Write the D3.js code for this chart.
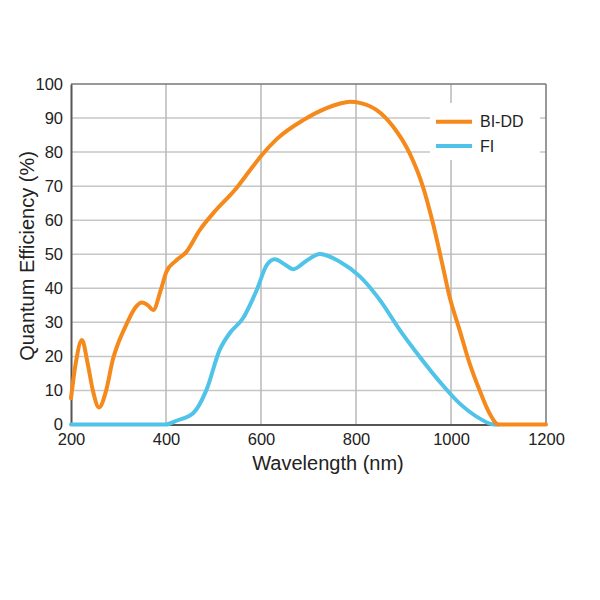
<!DOCTYPE html>
<html><head><meta charset="utf-8">
<script src="https://cdn.jsdelivr.net/npm/d3@7"></script>
<style>body{margin:0;background:#fff;} svg{display:block;font-family:"Liberation Sans",Arial,sans-serif;}</style>
</head><body>
<svg id="chart" width="600" height="600"></svg>
<script>
const xTicks = [200, 400, 600, 800, 1000, 1200];
const yTicks = [0, 10, 20, 30, 40, 50, 60, 70, 80, 90, 100];
const seriesNames = ["BI-DD", "FI"];
const seriesColors = ["#f5891b", "#4fc3e8"];
const biddWave = [200, 210, 223, 235, 246, 259, 274, 288, 302, 316, 337, 349, 362, 373, 389, 401, 420, 443, 471, 499, 548, 576, 601, 633, 689, 738, 765, 787, 810, 843, 878, 913, 941, 962, 983, 997, 1018, 1039, 1060, 1081, 1100, 1150, 1200];
const biddQE   = [7.7, 18, 24.8, 18, 10, 5, 10, 19, 24.8, 29.2, 34.6, 35.8, 35, 33.6, 39.5, 44.9, 48, 50.7, 57.1, 62, 69.4, 74.5, 79, 83.8, 89.4, 92.9, 94.2, 94.8, 94.4, 92.4, 87.5, 79.6, 69.8, 59.1, 46.3, 37.5, 27.8, 18, 10.1, 3.3, 0, 0, 0];
const fiWave = [200, 300, 400, 422, 457, 485, 513, 534, 562, 591, 612, 629, 650, 668, 695, 724, 766, 808, 850, 892, 934, 976, 1018, 1060, 1090, 1100];
const fiQE   = [0, 0, 0, 1.1, 3.3, 10.1, 21.9, 26.8, 31.2, 39.5, 46.8, 48.5, 47, 45.6, 48, 50.1, 47.8, 43.5, 36.6, 27.8, 19.9, 12.6, 6.2, 1.8, 0, 0];

const svg = d3.select("#chart");
const L = 71, R = 546, T = 84, B = 424.5;
const x = d3.scaleLinear().domain([200, 1200]).range([L, R]);
const y = d3.scaleLinear().domain([0, 100]).range([B, T]);

// grid
svg.append("g").selectAll("line").data(yTicks.slice(1, -1)).join("line")
  .attr("x1", L).attr("x2", R).attr("y1", d => y(d)).attr("y2", d => y(d))
  .attr("stroke", "#c6c6c6").attr("stroke-width", 1.5);
svg.append("g").selectAll("line").data(xTicks.slice(1, -1)).join("line")
  .attr("x1", d => x(d)).attr("x2", d => x(d)).attr("y1", T).attr("y2", B)
  .attr("stroke", "#b8b8b8").attr("stroke-width", 1.5);

// frame
svg.append("line").attr("x1", L).attr("x2", R).attr("y1", T).attr("y2", T).attr("stroke", "#777").attr("stroke-width", 1.5);
svg.append("line").attr("x1", R).attr("x2", R).attr("y1", T).attr("y2", B).attr("stroke", "#777").attr("stroke-width", 1.5);

// legend background
svg.append("rect").attr("x", 430).attr("y", 103).attr("width", 110).attr("height", 57).attr("fill", "#fff");

// axes
const xAxis = svg.append("g").attr("transform", `translate(0,${B})`)
  .call(d3.axisBottom(x).tickValues(xTicks).tickFormat(d3.format("d")).tickSize(0).tickPadding(9));
const yAxis = svg.append("g").attr("transform", `translate(${L},0)`)
  .call(d3.axisLeft(y).tickValues(yTicks).tickFormat(d3.format("d")).tickSize(0).tickPadding(8));
[xAxis, yAxis].forEach(a => {
  a.select(".domain").attr("stroke", "#555").attr("stroke-width", 2);
  a.selectAll("text").attr("font-size", 16.5).attr("fill", "#222").attr("font-family", "Liberation Sans, Arial, sans-serif");
});

// lines
const line = d3.line().x(d => x(d[0])).y(d => y(d[1])).curve(d3.curveMonotoneX);
const data = [d3.zip(biddWave, biddQE), d3.zip(fiWave, fiQE)];
[1, 0].forEach(i => {
  svg.append("path").datum(data[i]).attr("d", line).attr("fill", "none")
    .attr("stroke", seriesColors[i]).attr("stroke-width", 4).attr("stroke-linejoin", "round").attr("stroke-linecap", "round");
});

// legend
const lg = svg.append("g");
seriesNames.forEach((n, i) => {
  const yy = 121.7 + i * 24.3;
  lg.append("line").attr("x1", 436).attr("x2", 472).attr("y1", yy).attr("y2", yy)
    .attr("stroke", seriesColors[i]).attr("stroke-width", 4);
  lg.append("text").attr("x", 480).attr("y", yy + 5.5).attr("font-size", 16).attr("fill", "#222").text(n);
});

// titles
svg.append("text").attr("x", 328).attr("y", 470).attr("text-anchor", "middle")
  .attr("font-size", 20).attr("fill", "#222").text("Wavelength (nm)");
svg.append("text").attr("transform", "translate(34,256) rotate(-90)").attr("text-anchor", "middle")
  .attr("font-size", 20).attr("fill", "#222").text("Quantum Efficiency (%)");
</script>
</body></html>
